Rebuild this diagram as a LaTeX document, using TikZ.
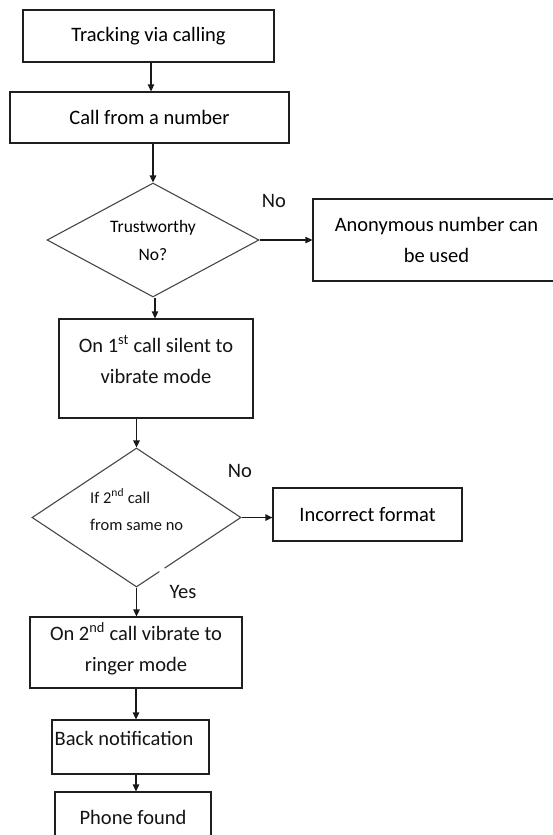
\documentclass[tikz,border=0pt]{standalone}
\usepackage{fontspec}
\setmainfont{Carlito}
\usetikzlibrary{shapes.geometric,arrows.meta}
\newcommand{\mainfs}{\fontsize{20.5}{31}\selectfont}
\newcommand{\diafsA}{\fontsize{17.5}{28}\selectfont}
\newcommand{\diafsB}{\fontsize{16.5}{27}\selectfont}
\begin{document}
\begin{tikzpicture}[x=1pt,y=-1pt,
  box/.style={draw=black!88, line width=1.3pt, inner sep=0pt, align=center, font=\mainfs},
  dia/.style={draw=black!72, line width=1.1pt, diamond, inner sep=0pt, align=center},
  txt/.style={inner sep=0pt, align=center, font=\mainfs, text=black!92},
  lbl/.style={inner sep=0pt, font=\mainfs, text=black!92},
  arr/.style={-{Triangle[length=7pt,width=6.5pt]}, line width=1.3pt, draw=black!90}
]
\fill[white] (0,0) rectangle (552,835);
\useasboundingbox (0,0) rectangle (552,835);

\node[box, minimum width=251, minimum height=52] (b1) at (148.5,36) {Tracking via calling};
\node[box, minimum width=279, minimum height=51] (b2) at (149.5,117.5) {Call from a number};
\node[dia, aspect=1.86, minimum width=212, minimum height=114, font=\diafsA] (d1) at (153,240) {Trustworthy\\No?};
\node[lbl] (no1) at (274,201) {No};
\node[box, minimum width=247, minimum height=82] (b3) at (436.5,240) {Anonymous number can\\be used};
\node[box, minimum width=194, minimum height=99] (b4) at (156,368.5) {};
\node[txt] (t4) at (156,359.5) {On 1\textsuperscript{st} call silent to\\vibrate mode};
\node[dia, aspect=1.5, minimum width=209, minimum height=139] (d2) at (136.5,517.5) {};
\node[txt, align=left, anchor=west, font=\diafsB] (t5) at (90,509.5) {If 2\textsuperscript{nd} call\\from same no};
\node[lbl] (no2) at (240,471) {No};
\node[box, minimum width=189, minimum height=53] (b5) at (367.5,514.5) {Incorrect format};
\node[lbl] (yes) at (183,592) {Yes};
\node[box, minimum width=212, minimum height=71] (b6) at (136,652.5) {};
\node[txt] (t6) at (136,649) {On 2\textsuperscript{nd} call vibrate to\\ringer mode};
\node[box, minimum width=157, minimum height=54] (b7) at (130.5,747) {};
\node[txt] (t7) at (124,738) {Back notification};
\node[box, minimum width=156, minimum height=60] (b8) at (133,822) {};
\node[txt] (t8) at (133,817) {Phone found};

\draw[white, line width=3pt] (159.5,571.5) -- (164.5,568.2);

\draw[arr] ([xshift=2.5pt]b1.south) -- ([xshift=2.5pt]b1.south |- b2.north);
\draw[arr] (d1.north |- b2.south) -- (d1.north);
\draw[arr] (d1.east) -- (d1.east -| b3.west);
\draw[arr] ([xshift=2pt]d1.south) -- ([xshift=2pt]d1.south |- b4.north);
\draw[arr] (d2.north |- b4.south) -- (d2.north);
\draw[arr] (d2.east) -- (d2.east -| b5.west);
\draw[arr] (d2.south) -- (d2.south |- b6.north);
\draw[arr] (b6.south) -- (b6.south |- b7.north);
\draw[arr] (b6.south |- b7.south) -- (b6.south |- b8.north);
\end{tikzpicture}
\end{document}
